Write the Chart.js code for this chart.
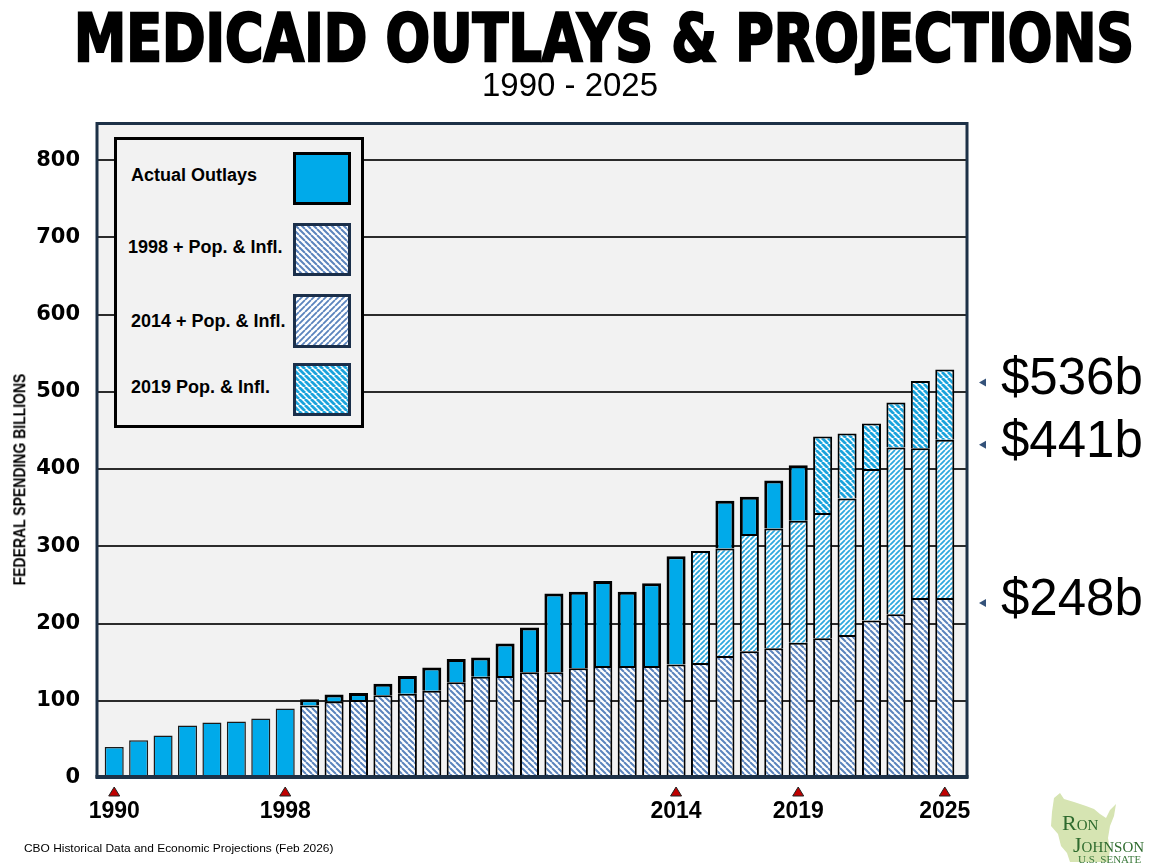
<!DOCTYPE html>
<html lang="en">
<head>
<meta charset="UTF-8">
<title>Medicaid Outlays &amp; Projections</title>
<script src="https://cdn.jsdelivr.net/npm/chart.js"></script>
<style>
  body { margin: 0; width: 1152px; height: 864px; position: relative; overflow: hidden; background: #fff; font-family: 'Liberation Sans', Arial, sans-serif; color: #000; }
  #chart { position: absolute; left: 0; top: 0; }
  .abs { position: absolute; white-space: nowrap; }
  #title { left: 74px; top: 6px; font-family: 'DejaVu Sans', sans-serif; font-weight: bold; font-size: 66px; line-height: 1; -webkit-text-stroke: 2.5px #000; transform-origin: 0 0; }
  #subtitle { left: 0; width: 1140px; top: 68px; text-align: center; font-size: 33px; line-height: 1; }
  #ytitle { font-weight: bold; font-size: 17px; line-height: 1; }
  #legend { left: 114px; top: 137px; width: 250px; height: 291px; box-sizing: border-box; border: 3px solid #000; background: #f2f2f2; }
  .ltext { font-weight: bold; font-size: 18px; line-height: 20px; }
  .swatch { position: absolute; left: 293px; }
  #footer { left: 24px; top: 843px; font-size: 11px; line-height: 1; transform-origin: 0 0; }
  #logo { left: 1040px; top: 790px; }
</style>
</head>
<body>
  <canvas id="chart" width="1152" height="864"></canvas>

  <div id="title" class="abs">MEDICAID OUTLAYS &amp; PROJECTIONS</div>
  <div id="subtitle" class="abs">1990 - 2025</div>
  <div id="ytitle" class="abs">FEDERAL SPENDING BILLIONS</div>

  <!-- legend box -->
  <div id="legend" class="abs"></div>
  <div class="abs ltext" style="left:131px; top:165px;">Actual Outlays</div>
  <div class="abs ltext" style="left:128px; top:237px;">1998 + Pop. &amp; Infl.</div>
  <div class="abs ltext" style="left:131px; top:311px;">2014 + Pop. &amp; Infl.</div>
  <div class="abs ltext" style="left:131px; top:377px;">2019 Pop. &amp; Infl.</div>
  <canvas id="swActual" class="swatch" width="58" height="53" style="top:152px;"></canvas>
  <canvas id="sw1998" class="swatch" width="58" height="53" style="top:223px;"></canvas>
  <canvas id="sw2014" class="swatch" width="58" height="54" style="top:294px;"></canvas>
  <canvas id="sw2019" class="swatch" width="58" height="53" style="top:363px;"></canvas>

  <div id="footer" class="abs">CBO Historical Data and Economic Projections (Feb 2026)</div>

  <svg id="logo" class="abs" width="112" height="74" viewBox="0 0 112 74">
    <polygon points="14,8 20,3 24,9 34,12 46,16 54,19 60,24 66,28 70,20 76,14 74,26 70,36 68,48 70,60 68,72 30,72 27,63 21,56 18,44 11,36 12,22" fill="#d6e4b2"/>
    <text x="22" y="40" fill="#2e6b2e" font-family="Liberation Serif"><tspan font-size="22">R</tspan><tspan font-size="15">ON</tspan></text>
    <text x="33" y="62" fill="#2e6b2e" font-family="Liberation Serif"><tspan font-size="22">J</tspan><tspan font-size="15">OHNSON</tspan></text>
    <text x="38" y="73" fill="#3c7a3c" font-family="Liberation Serif" font-size="11">U.S. SENATE</text>
  </svg>

<script>
// Bars, one per category (1997 is not drawn in the original)
const years = ['1990', '1991', '1992', '1993', '1994', '1995', '1996', '1998', '1999', '2000',
               '2001', '2002', '2003', '2004', '2005', '2006', '2007', '2008', '2009', '2010',
               '2011', '2012', '2013', '2014', '2015', '2016', '2017', '2018', '2019', '2020',
               '2021', '2022', '2023', '2024', '2025'];
const labeledYears = ['1990', '1998', '2014', '2019', '2025'];

// $ billions, top of each bar part
const actual = [40, 49, 55, 68, 72, 73, 77, 90, 102, 108,
                110, 122, 132, 143, 154, 156, 174, 195, 239, 241,
                255, 241, 252, 287, null, 359, 364, 385, 405, null,
                null, null, null, null, null];
const proj1998 = [null, null, null, null, null, null, null, null, 94, 99,
                  101, 107, 109, 113, 124, 131, 132, 137, 137, 142,
                  145, 145, 145, 147, 149, 158, 164, 168, 175, 181,
                  185, 204, 212, 233, 233];
const proj2014 = [null, null, null, null, null, null, null, null, null, null,
                  null, null, null, null, null, null, null, null, null, null,
                  null, null, null, null, 294, 297, 316, 323, 333, 343,
                  362, 400, 428, 427, 438];
const proj2019 = [null, null, null, null, null, null, null, null, null, null,
                  null, null, null, null, null, null, null, null, null, null,
                  null, null, null, null, null, null, null, null, null, 442,
                  446, 459, 486, 514, 529];

const yTicks = [0, 100, 200, 300, 400, 500, 600, 700, 800];
const yMax = 848;
const calloutLabels = ['$536b', '$441b', '$248b'];
const calloutShift = [10, 2, 2];   // px nudge of each callout below its bar edge

// diagonal hatch fill, dir 1 = "\" and -1 = "/"
function makeHatch(color, dir, size, lw) {
    const c = document.createElement('canvas');
    c.width = c.height = size;
    const g = c.getContext('2d');
    g.fillStyle = '#fff';
    g.fillRect(0, 0, size, size);
    g.strokeStyle = color;
    g.lineWidth = lw;
    g.beginPath();
    for (let k = -1; k <= 1; k++) {
        if (dir > 0) { g.moveTo(k * size, 0); g.lineTo(k * size + size, size); }
        else { g.moveTo(k * size, size); g.lineTo(k * size + size, 0); }
    }
    g.stroke();
    return g.createPattern(c, 'repeat');
}

const solidBlue = '#00aaea';
const hatch1998 = makeHatch('#5b84bd', 1, 6, 2);
const hatch2014 = makeHatch('#2ea8de', -1, 5, 1.8);
const hatch2019 = makeHatch('#1aa3dc', 1, 6, 2.8);
const hatch2014Key = makeHatch('#5b84bd', -1, 6, 1.8);

function paintSwatch(id, fill, edge, lw) {
    const c = document.getElementById(id), g = c.getContext('2d');
    g.fillStyle = fill;
    g.fillRect(0, 0, c.width, c.height);
    g.strokeStyle = edge;
    g.lineWidth = lw;
    g.strokeRect(lw / 2, lw / 2, c.width - lw, c.height - lw);
}
paintSwatch('swActual', solidBlue, '#000', 3);
paintSwatch('sw1998', hatch1998, '#1b2f4a', 3);
paintSwatch('sw2014', hatch2014Key, '#1b2f4a', 3);
paintSwatch('sw2019', hatch2019, '#1b2f4a', 3);

// text fitting for the heavy title, footer and rotated axis title
function fitX(id, w) {
    const el = document.getElementById(id);
    el.style.transform = 'scaleX(' + (w / el.offsetWidth) + ')';
}
fitX('title', 1060);
fitX('footer', 310);
const yt = document.getElementById('ytitle');
yt.style.left = (19.5 - yt.offsetWidth / 2) + 'px';
yt.style.top = (479 - yt.offsetHeight / 2) + 'px';
yt.style.transform = 'rotate(-90deg) scaleX(' + (212 / yt.offsetWidth) + ')';

// plot background, grid, frame, year markers and callouts
const chartDecor = {
    id: 'chartDecor',
    beforeDraw(chart) {
        const { ctx, chartArea: a, scales: { y } } = chart;
        const L = a.left - 5, R = a.right + 10;
        ctx.save();
        ctx.fillStyle = '#f2f2f2';
        ctx.fillRect(L, a.top, R - L, a.bottom - a.top);
        ctx.strokeStyle = '#2b2b2b';
        ctx.lineWidth = 2;
        yTicks.slice(1).forEach(v => {
            const py = Math.round(y.getPixelForValue(v));
            ctx.beginPath();
            ctx.moveTo(L, py);
            ctx.lineTo(R, py);
            ctx.stroke();
        });
        ctx.restore();
    },
    afterDatasetsDraw(chart) {
        const { ctx, chartArea: a } = chart;
        const L = a.left - 5, R = a.right + 10;
        ctx.save();
        ctx.strokeStyle = '#1d3147';
        ctx.lineWidth = 3;
        ctx.beginPath();
        ctx.moveTo(L, a.bottom);
        ctx.lineTo(L, a.top + 0.5);
        ctx.lineTo(R, a.top + 0.5);
        ctx.lineTo(R, a.bottom);
        ctx.stroke();
        ctx.lineWidth = 4;
        ctx.beginPath();
        ctx.moveTo(L - 1.5, a.bottom - 1);
        ctx.lineTo(R + 1.5, a.bottom - 1);
        ctx.stroke();
        ctx.restore();
    },
    afterDraw(chart) {
        const { ctx, chartArea: a, scales: { x, y } } = chart;
        ctx.save();
        labeledYears.forEach(lab => {
            const px = x.getPixelForValue(years.indexOf(lab));
            ctx.beginPath();
            ctx.moveTo(px, a.bottom + 9);
            ctx.lineTo(px + 5.5, a.bottom + 18);
            ctx.lineTo(px - 5.5, a.bottom + 18);
            ctx.closePath();
            ctx.fillStyle = '#c00000';
            ctx.fill();
            ctx.strokeStyle = '#222';
            ctx.lineWidth = 1;
            ctx.stroke();
        });

        const last = years.length - 1;
        const anchors = [proj2019[last], proj2014[last], proj1998[last]];
        ctx.font = '51px "Liberation Sans"';
        ctx.textBaseline = 'middle';
        calloutLabels.forEach((txt, i) => {
            const py = y.getPixelForValue(anchors[i]) + calloutShift[i];
            ctx.beginPath();
            ctx.moveTo(a.right + 22, py + 3);
            ctx.lineTo(a.right + 29, py - 1);
            ctx.lineTo(a.right + 29, py + 7);
            ctx.closePath();
            ctx.fillStyle = '#34527a';
            ctx.fill();
            ctx.fillStyle = '#000';
            ctx.fillText(txt, a.right + 44, py + 1);
        });
        ctx.restore();
    }
};

const below = i => proj2014[i] ?? proj1998[i] ?? 0;

const chartData = {
    labels: years,
    datasets: [
        {
            label: '1998 + Pop. & Infl.',
            data: proj1998.map(v => v == null ? null : [0, v]),
            backgroundColor: hatch1998,
            borderColor: '#000',
            borderWidth: 2,
            borderSkipped: false
        },
        {
            label: '2014 + Pop. & Infl.',
            data: proj2014.map((v, i) => v == null ? null : [proj1998[i], v]),
            backgroundColor: hatch2014,
            borderColor: '#000',
            borderWidth: 2,
            borderSkipped: 'start'
        },
        {
            label: '2019 Pop. & Infl.',
            data: proj2019.map((v, i) => v == null ? null : [proj2014[i], v]),
            backgroundColor: hatch2019,
            borderColor: '#000',
            borderWidth: 2,
            borderSkipped: 'start'
        },
        {
            label: 'Actual Outlays',
            data: actual.map((v, i) => v == null ? null : [below(i), v]),
            backgroundColor: solidBlue,
            borderColor: ctx => ctx.dataIndex < 8 ? '#1a1a1a' : '#000',
            borderWidth: ctx => ctx.dataIndex < 8 ? 1.5 : 3,
            borderSkipped: 'start'
        }
    ]
};

new Chart(document.getElementById('chart'), {
    type: 'bar',
    data: chartData,
    plugins: [chartDecor],
    options: {
        responsive: false,
        animation: false,
        layout: { padding: { top: 123, right: 195, bottom: 0, left: 0 } },
        datasets: { bar: { barPercentage: 0.78, categoryPercentage: 1 } },
        plugins: { legend: { display: false }, tooltip: { enabled: false } },
        scales: {
            x: {
                stacked: true,
                grid: { display: false, drawTicks: false },
                border: { display: false },
                ticks: {
                    autoSkip: false,
                    maxRotation: 0,
                    color: '#000',
                    padding: 20,
                    font: { family: 'Liberation Sans', weight: 'bold', size: 23 },
                    callback: (v, i) => labeledYears.includes(years[i]) ? years[i] : ''
                },
                afterFit(s) { s.height = 86; }
            },
            y: {
                min: 0,
                max: yMax,
                grid: { display: false, drawTicks: false },
                border: { display: false },
                afterBuildTicks(s) { s.ticks = yTicks.map(v => ({ value: v })); },
                ticks: {
                    color: '#000',
                    padding: 22,
                    font: { family: 'DejaVu Sans', weight: 'bold', size: 21 }
                },
                afterFit(s) { s.width = 102; }
            }
        }
    }
});
</script>
</body>
</html>
